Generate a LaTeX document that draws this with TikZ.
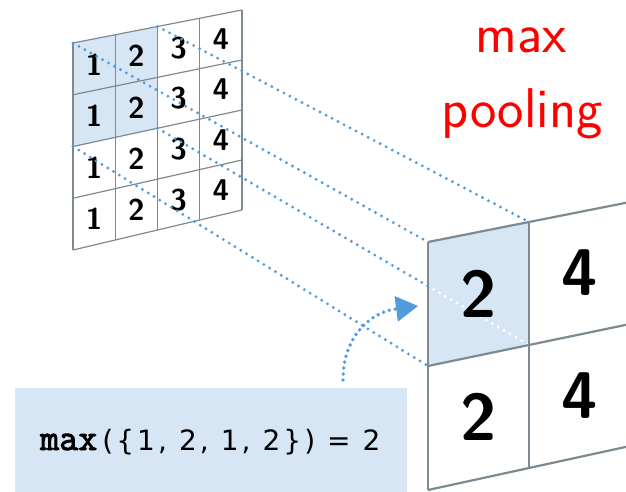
\documentclass[tikz,border=0pt]{standalone}
\usepackage{fontspec}
\usepackage{xcolor}
\usepackage{tikz}
\usetikzlibrary{calc,arrows.meta}
\newfontfamily\boldmono[FakeBold=2.5]{Latin Modern Mono}
\newfontfamily\plainsans[LetterSpace=11]{DejaVu Sans}
\definecolor{cellblue}{RGB}{214,230,245}
\definecolor{dotblue}{RGB}{82,156,220}
\definecolor{gridgray}{RGB}{125,138,145}

\begin{document}
\begin{tikzpicture}[x=1pt, y=-1pt, every node/.style={inner sep=0pt},
  proj/.style={dotblue, line width=3.2pt, line cap=round, dash pattern=on 0pt off 6.8pt},
  hint/.style={dotblue, line width=3.8pt, line cap=round, dash pattern=on 0pt off 6pt, -{Triangle[length=22pt, width=26pt, line width=0pt]}},
  smallgrid/.style={gridgray, line width=1.2pt},
  biggrid/.style={gridgray, line width=2.2pt},
  smalldigit/.style={font=\fontsize{30}{30}\selectfont\sffamily\bfseries},
  bigdigit/.style={font=\fontsize{66}{66}\selectfont\sffamily\bfseries}]
\useasboundingbox (0,0) rectangle (626,492);
\clip (0,0) rectangle (626,492);

\foreach \i in {0,...,4}
  \foreach \j in {0,...,4}
    \coordinate (s\i\j) at ({73+42.25*\i}, {43-8.25*\i+\j*(207-1.75*\i)/4});
\foreach \i in {0,1,2}
  \foreach \j in {0,1,2}
    \coordinate (b\i\j) at ({428+101*\i}, {242-20*\i+\j*(124-\i)});

\fill[cellblue] (s00) -- (s20) -- (s22) -- (s02) -- cycle;
\foreach \k in {0,...,4} {
  \draw[smallgrid] (s\k0) -- (s\k4);
  \draw[smallgrid] (s0\k) -- (s4\k);
}
\foreach \i/\d in {0/1,1/2,2/3,3/4}
  \foreach \j in {0,...,3}
    \node[smalldigit] (n\i\j) at ({73+42.25*(\i+.5)}, {43-8.25*(\i+.5)+(\j+.5)*(207-1.75*(\i+.5))/4}) {\d};

\draw[proj] (s00) -- (b00);
\draw[proj] (s20) -- (b10);
\draw[proj] (s02) -- (b01);
\draw[proj] (s22) -- (b11);

\fill[cellblue] (b00) -- (b10) -- (b11) -- (b01) -- cycle;
\begin{scope}
  \clip (b00) -- (b10) -- (b11) -- (b01) -- cycle;
  \draw[proj, white] (s22) -- (b11);
\end{scope}
\foreach \k in {0,1,2} {
  \draw[biggrid] (b\k0) -- (b\k2);
  \draw[biggrid] (b0\k) -- (b2\k);
}
\node[bigdigit] (m00) at ($(b00)!.5!(b11)$) {2};
\node[bigdigit] (m10) at ($(b10)!.5!(b21)$) {4};
\node[bigdigit] (m01) at ($(b01)!.5!(b12)$) {2};
\node[bigdigit] (m11) at ($(b11)!.5!(b22)$) {4};

\coordinate (from) at (343,380);
\coordinate (tip) at (418,306);
\draw[hint] (from) .. controls (343,335) and (372,312) .. (tip);

\node[fill=cellblue, minimum width=392pt, minimum height=112pt, anchor=north west] (box) at (15,388) {};
\node[anchor=base west] (formula) at (40,450) {{\boldmono\fontsize{37}{37}\selectfont max}\hspace{5pt}{\plainsans\fontsize{28}{28}\selectfont(\{1, 2, 1, 2\}) = 2}};

\node[anchor=base, text=red, font=\fontsize{56}{56}\selectfont\sffamily] (maxt) at (521,53) {max};
\node[anchor=base, text=red, font=\fontsize{56}{56}\selectfont\sffamily] (poolt) at (522,128) {pooling};
\end{tikzpicture}
\end{document}
